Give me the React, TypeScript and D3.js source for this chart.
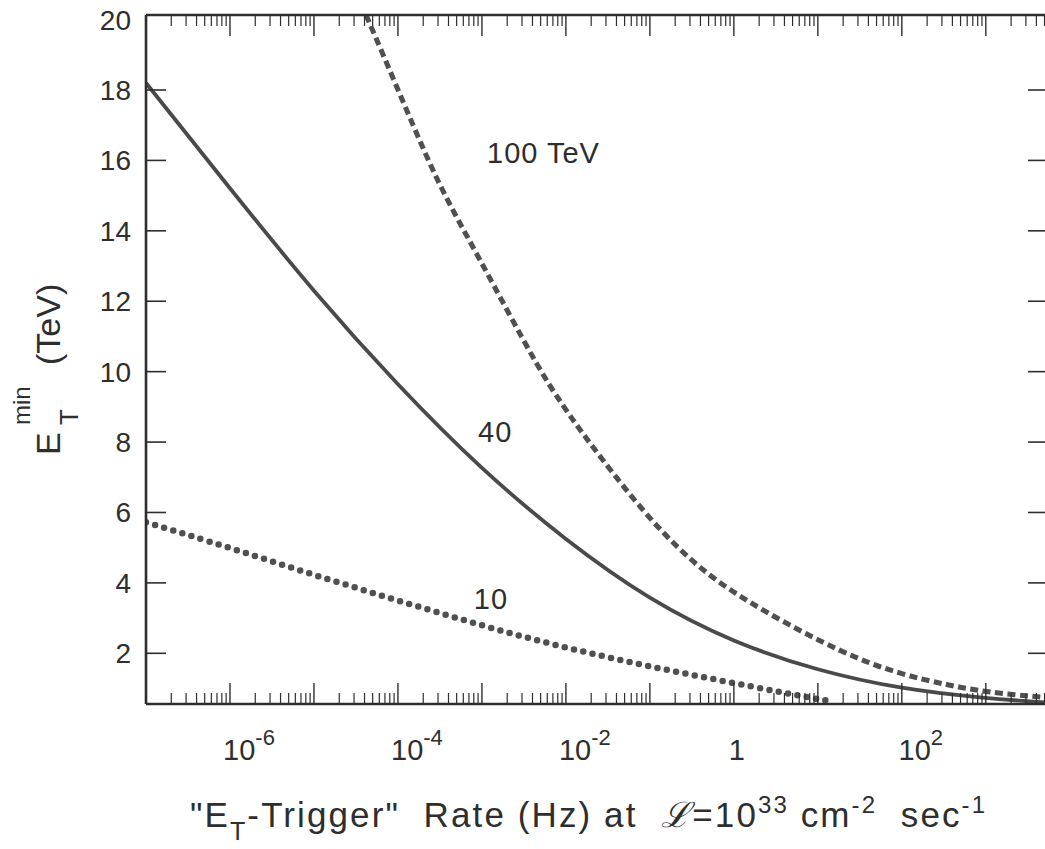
import React from 'react';
import * as d3 from 'd3';

// ---- data ----
// 40 TeV (solid)
const RATE_40 = [1e-7, 1e-6, 1e-5, 1e-4, 1e-3, 1e-2, 0.1, 1, 10, 100, 1000, 5500];
const ET_40 = [18.2, 15.2, 12.25, 9.6, 7.2, 5.2, 3.5, 2.3, 1.5, 0.98, 0.72, 0.6];
// 100 TeV (dashed)
const RATE_100 = [4.17e-5, 7.24e-5, 1.51e-4, 3.09e-4, 6.46e-4, 1.35e-3, 3.09e-3, 6.31e-3, 1.32e-2, 2.34e-2, 0.1, 0.437, 2.14, 19.5, 95.5, 372, 1023, 5500];
const ET_100 = [20.13, 18.8, 17.0, 15.3, 13.9, 12.5, 10.9, 9.6, 8.5, 7.7, 5.77, 4.27, 3.22, 2.0, 1.4, 1.09, 0.89, 0.74];
// 10 TeV (dotted)
const RATE_10 = [1e-7, 1e-6, 1e-5, 1e-4, 1e-3, 1e-2, 0.1, 1, 10, 12.5];
const ET_10 = [5.72, 5.0, 4.22, 3.5, 2.78, 2.15, 1.62, 1.15, 0.7, 0.66];

const Y_TICKS = [2, 4, 6, 8, 10, 12, 14, 16, 18];
const Y_LABELS = [2, 4, 6, 8, 10, 12, 14, 16, 18, 20];
const X_DECADES = [-7, -6, -5, -4, -3, -2, -1, 0, 1, 2, 3];
const X_LABEL_EXP = [-6, -4, -2, 0, 2];
const MINOR_MULT = [2, 3, 4, 5, 6, 7, 8, 9];

const CURVE_LABELS = [
  { text: '100 TeV', rate: 1.15e-3, et: 15.93 },
  { text: '40', rate: 9e-4, et: 8.0 },
  { text: '10', rate: 8e-4, et: 3.25 },
];

const FONT = '"Liberation Sans", Arial, Helvetica, sans-serif';
const INK = '#2e2e2e';
const LINE = '#4a4a4a';

export default function App() {
  const W = 1045, H = 849;
  const left = 146, right = 1048, top = 15, bottom = 704;
  const x = d3.scaleLog().domain([1e-7, 5500]).range([left, right]);
  const y = d3.scaleLinear().domain([0.56, 20.13]).range([bottom, top]);
  const line = d3.line<[number, number]>().x(d => x(d[0])).y(d => y(d[1])).curve(d3.curveBasis);

  const zip = (a: number[], b: number[]) => a.map((v, i) => [v, b[i]] as [number, number]);

  const majors = X_DECADES.map(d => Math.pow(10, d)).filter(v => x(v) >= left && x(v) <= right);
  const minors: number[] = [];
  X_DECADES.forEach(d => MINOR_MULT.forEach(m => {
    const v = m * Math.pow(10, d);
    if (x(v) > left && x(v) < right) minors.push(v);
  }));

  return (
    <svg width={W} height={H} style={{ position: 'absolute', left: 0, top: 0, background: '#fff' }}
      fontFamily={FONT}>
      <defs>
        <clipPath id="plot">
          <rect x={left} y={top} width={right - left} height={bottom - top} />
        </clipPath>
      </defs>
      <rect x={0} y={0} width={W} height={H} fill="#fff" />

      {/* curves */}
      <g clipPath="url(#plot)" fill="none">
        <path d={line(zip(RATE_40, ET_40)) || ''} stroke={LINE} strokeWidth={3.8} />
        <path d={line(zip(RATE_100, ET_100)) || ''} stroke="#505050" strokeWidth={5} strokeDasharray="8 4.5" />
        <path d={line(zip(RATE_10, ET_10)) || ''} stroke="#505050" strokeWidth={6.5} strokeDasharray="0 9.5" strokeLinecap="round" />
      </g>

      {/* frame */}
      <g stroke={INK} fill="none">
        <line x1={left} x2={left} y1={top} y2={bottom} strokeWidth={2.6} />
        <line x1={left} x2={right} y1={bottom} y2={bottom} strokeWidth={2.6} />
        <line x1={left} x2={right} y1={top} y2={top} strokeWidth={2.6} />
        <line x1={right} x2={right} y1={top} y2={bottom} strokeWidth={2.6} />
        {Y_TICKS.map(t => (
          <g key={'yt' + t}>
            <line x1={left} x2={left + 20} y1={y(t)} y2={y(t)} strokeWidth={1.6} />
            <line x1={right - 20} x2={right} y1={y(t)} y2={y(t)} strokeWidth={1.6} />
          </g>
        ))}
        {majors.map(v => (
          <g key={'xm' + v}>
            <line x1={x(v)} x2={x(v)} y1={bottom} y2={bottom - 21} strokeWidth={1.4} />
            <line x1={x(v)} x2={x(v)} y1={top} y2={top + 21} strokeWidth={1.4} />
          </g>
        ))}
        {minors.map(v => (
          <g key={'xn' + v}>
            <line x1={x(v)} x2={x(v)} y1={bottom} y2={bottom - 11} strokeWidth={1.2} />
            <line x1={x(v)} x2={x(v)} y1={top} y2={top + 11} strokeWidth={1.2} />
          </g>
        ))}
      </g>

      {/* y tick labels */}
      <g fill={INK} fontSize={28} textAnchor="end">
        {Y_LABELS.map(t => (
          <text key={'yl' + t} x={131} y={y(t) + 10}>{t}</text>
        ))}
      </g>

      {/* x tick labels */}
      <g fill={INK} fontSize={29}>
        {X_LABEL_EXP.map(e => e === 0 ? (
          <text key={'xl' + e} x={x(1) + 3} y={760} textAnchor="middle">1</text>
        ) : (
          <text key={'xl' + e} x={x(Math.pow(10, e)) + 19} y={760} textAnchor="middle">
            10<tspan dy={-15} fontSize={22}>{e < 0 ? '-' + (-e) : String(e)}</tspan>
          </text>
        ))}
      </g>

      {/* curve labels */}
      <g fill={INK} fontSize={29} letterSpacing={1}>
        {CURVE_LABELS.map(l => (
          <text key={l.text} x={x(l.rate)} y={y(l.et)}>{l.text}</text>
        ))}
      </g>

      {/* y axis title */}
      <g transform="translate(60,487) rotate(-90)" fill={INK}>
        <text x={32} y={0} fontSize={34}>E</text>
        <text x={62} y={18} fontSize={26}>T</text>
        <text x={62} y={-30} fontSize={24}>min</text>
        <text x={122} y={0} fontSize={34}>(TeV)</text>
      </g>

      {/* x axis title */}
      <text x={190} y={827} fontSize={35} fill={INK} style={{ whiteSpace: 'pre' }}
        textLength={795} lengthAdjust="spacing">
        <tspan>"E</tspan>
        <tspan dy={13} fontSize={25}>T</tspan>
        <tspan dy={-13}>{'-Trigger"  Rate (Hz) at  '}</tspan>
        <tspan fontStyle="italic" fontFamily="DejaVu Serif, serif">ℒ</tspan>
        <tspan>=10</tspan>
        <tspan dy={-14} fontSize={24}>33</tspan>
        <tspan dy={14}>{' cm'}</tspan>
        <tspan dy={-14} fontSize={24}>-2</tspan>
        <tspan dy={14}>{'  sec'}</tspan>
        <tspan dy={-14} fontSize={24}>-1</tspan>
      </text>
    </svg>
  );
}
